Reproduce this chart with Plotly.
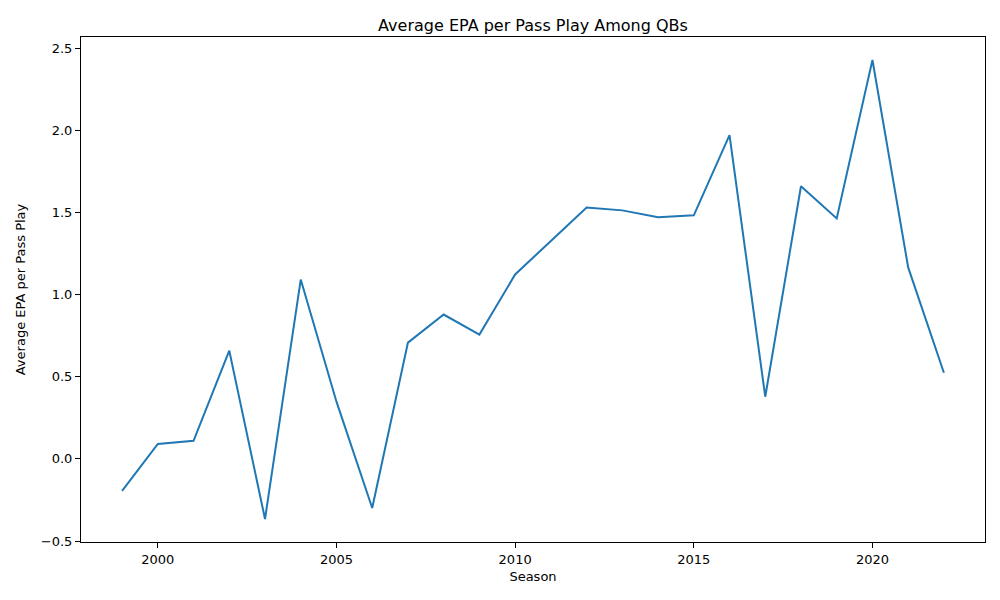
import plotly.graph_objects as go

seasons = list(range(1999, 2023))
epa = [-0.195, 0.091, 0.110, 0.658, -0.366, 1.091, 0.348, -0.299, 0.707, 0.878,
       0.756, 1.122, 1.326, 1.530, 1.512, 1.470, 1.482, 1.970, 0.378, 1.659,
       1.463, 2.427, 1.165, 0.524]

fig = go.Figure()
fig.add_trace(go.Scatter(x=seasons, y=epa, mode="lines",
                         line=dict(color="#1f77b4", width=2)))

font = "DejaVu Sans"
fig.update_layout(
    width=1000, height=600,
    paper_bgcolor="white", plot_bgcolor="white",
    margin=dict(l=70, r=23, t=29, b=66),
    showlegend=False,
    title=dict(text="Average EPA per Pass Play Among QBs", x=0.5, xref="paper",
               y=1, yref="paper", yanchor="bottom", pad=dict(b=6),
               font=dict(family=font, size=16, color="black")),
    font=dict(family=font, size=13, color="black"),
)
axis_common = dict(showgrid=False, zeroline=False, showline=True, linecolor="black",
                   linewidth=1, mirror=True, ticks="outside", ticklen=5,
                   tickcolor="black", tickfont=dict(family=font, size=13, color="black"))
fig.update_xaxes(range=[1997.85, 2023.15], tickvals=[2000, 2005, 2010, 2015, 2020],
                 title=dict(text="Season", font=dict(family=font, size=13), standoff=6),
                 **axis_common)
fig.update_yaxes(range=[-0.506, 2.567], tickvals=[-0.5, 0, 0.5, 1.0, 1.5, 2.0, 2.5],
                 ticktext=["\u22120.5", "0.0", "0.5", "1.0", "1.5", "2.0", "2.5"],
                 title=dict(text="Average EPA per Pass Play", font=dict(family=font, size=13), standoff=12),
                 **axis_common)
fig.write_html("out.html")
